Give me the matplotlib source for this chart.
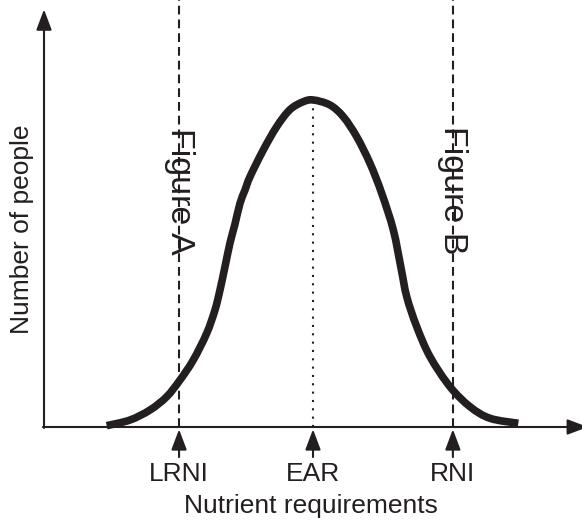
import matplotlib
matplotlib.use("Agg")
import matplotlib.pyplot as plt
from matplotlib.path import Path
from matplotlib.patches import PathPatch

plt.rcParams['font.family'] = ['Liberation Sans', 'DejaVu Sans']

INK = '#231f20'

# curve (x: requirement 0-100, y: people, peak = 100)
curve_x = [11.65, 15.99, 19.70, 22.81, 25.28, 27.75, 30.24, 31.78, 32.71, 33.64,
           34.57, 35.50, 36.43, 37.36, 38.29, 40.76, 43.25, 45.72, 48.20, 50.06,
           53.16, 55.63, 58.12, 60.59, 62.77, 64.93, 66.36, 67.42, 69.28, 71.75,
           75.46, 79.18, 82.90, 88.16]
curve_y = [0.40, 2.14, 5.20, 9.27, 14.37, 20.49, 28.65, 35.78, 41.90, 49.02,
           56.27, 62.08, 68.41, 72.48, 76.54, 84.71, 91.83, 97.06, 99.48, 100.0,
           98.47, 94.89, 88.78, 80.64, 71.47, 60.24, 48.62, 39.85, 30.67, 21.50,
           12.32, 6.21, 2.66, 1.13]

# reference markers on the requirement axis
marker_names = ['LRNI', 'EAR', 'RNI']
marker_x = [25.1, 50.0, 76.0]
marker_style = ['dashed', 'dotted', 'dashed']

figure_labels = ['Figure A', 'Figure B']
figure_label_x = [25.2, 75.9]
figure_label_y = [72.2, 72.5]


def smooth_path(xs, ys):
    # Catmull-Rom through the read points, as cubic bezier segments
    pts = list(zip(xs, ys))
    verts = [pts[0]]
    codes = [Path.MOVETO]
    n = len(pts)
    for i in range(n - 1):
        p0 = pts[max(i - 1, 0)]
        p1 = pts[i]
        p2 = pts[i + 1]
        p3 = pts[min(i + 2, n - 1)]
        c1 = (p1[0] + (p2[0] - p0[0]) / 6, p1[1] + (p2[1] - p0[1]) / 6)
        c2 = (p2[0] - (p3[0] - p1[0]) / 6, p2[1] - (p3[1] - p1[1]) / 6)
        verts += [c1, c2, p2]
        codes += [Path.CURVE4] * 3
    return Path(verts, codes)


fig = plt.figure(figsize=(5.82, 5.21), dpi=100)
ax = fig.add_axes([0, 0, 1, 1])
ax.set_xlim(-8.18, 100)
ax.set_ylim(-28.75, 130.58)
ax.axis('off')

head = '-|>,head_length=1.25,head_width=0.47'


def arrow(x0, y0, x1, y1):
    ax.annotate('', xy=(x1, y1), xytext=(x0, y0), annotation_clip=False,
                arrowprops=dict(arrowstyle=head, mutation_scale=10, color=INK,
                                lw=1.5, shrinkA=0, shrinkB=0))


# axes with arrow heads
arrow(0, -0.3, 0, 127.7)
arrow(-0.2, 0, 101.1, 0)

# vertical reference lines + arrows + names
for name, x, style in zip(marker_names, marker_x, marker_style):
    if style == 'dashed':
        ax.plot([x, x], [0, 130.58], color=INK, lw=1.5,
                linestyle=(0, (4.2, 2.4)), dash_capstyle='butt', zorder=3)
    else:
        ax.plot([x, x], [0, 99.5], color=INK, lw=1.5,
                linestyle=(0, (1, 3.0)), dash_capstyle='butt', zorder=3)
    arrow(x, -9.2, x, -0.7)
    ax.text(x, -16.4, name, ha='center', va='baseline', fontsize=19, color=INK)

# the distribution curve
ax.add_patch(PathPatch(smooth_path(curve_x, curve_y), facecolor='none',
                       edgecolor=INK, lw=5.5, capstyle='butt',
                       joinstyle='round', zorder=4))

for lab, x, y in zip(figure_labels, figure_label_x, figure_label_y):
    ax.text(x, y, lab, rotation=270, ha='center', va='center',
            fontsize=24.5, color=INK, zorder=2)

ax.text(49.6, -26.3, 'Nutrient requirements', ha='center', va='baseline',
        fontsize=19, color=INK)
ax.text(-4.1, 60.5, 'Number of people', rotation=90, ha='center', va='center',
        fontsize=19, color=INK)

fig.savefig('out.png', dpi=100)
